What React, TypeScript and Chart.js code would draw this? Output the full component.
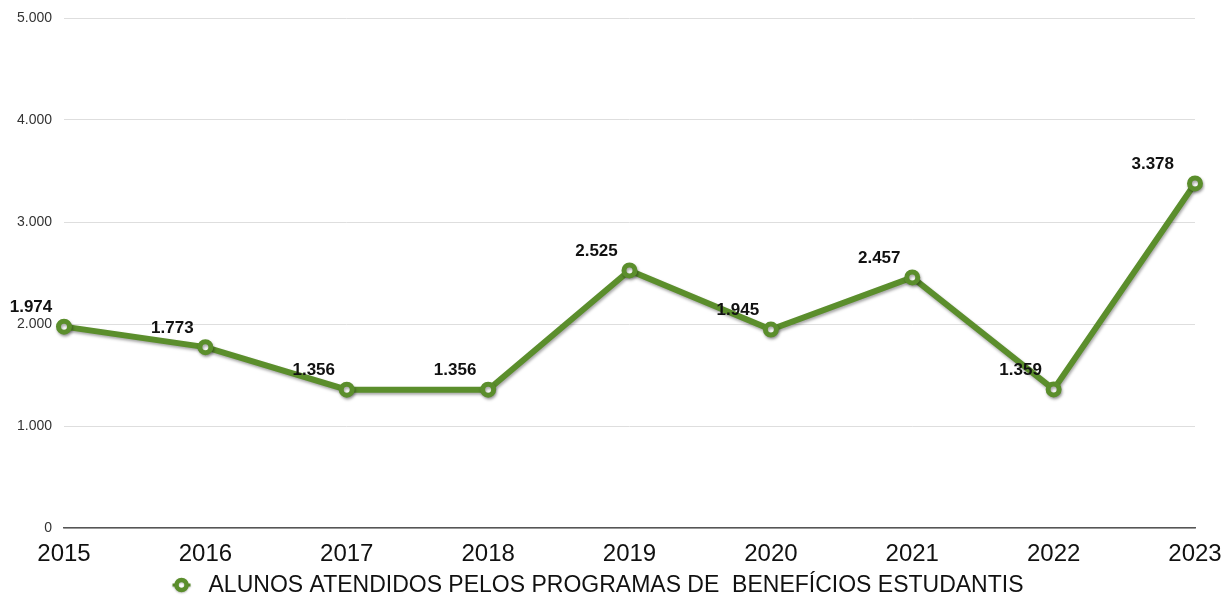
import React, { useEffect, useRef } from "react";
import { Chart, registerables } from "chart.js";

Chart.register(...registerables);

const years = ["2015", "2016", "2017", "2018", "2019", "2020", "2021", "2022", "2023"];
const alunos = [1974, 1773, 1356, 1356, 2525, 1945, 2457, 1359, 3378];
const seriesLabel = "ALUNOS ATENDIDOS PELOS PROGRAMAS DE  BENEFÍCIOS ESTUDANTIS";
const yTicks = [0, 1000, 2000, 3000, 4000, 5000];

const GREEN = "#5b8e2c";
const FONT = "'Liberation Sans', Arial, Helvetica, sans-serif";

const fmt = (v: number) => v.toLocaleString("de-DE");

const shadowPlugin = {
  id: "lineShadow",
  beforeDatasetDraw(chart: any) {
    const ctx = chart.ctx;
    ctx.save();
    ctx.shadowColor = "rgba(0,0,0,0.35)";
    ctx.shadowBlur = 3;
    ctx.shadowOffsetX = 1;
    ctx.shadowOffsetY = 2;
  },
  afterDatasetDraw(chart: any) {
    chart.ctx.restore();
  },
};

const labelPlugin = {
  id: "valueLabels",
  afterDatasetsDraw(chart: any) {
    const ctx = chart.ctx;
    const meta = chart.getDatasetMeta(0);
    const data = chart.data.datasets[0].data as number[];
    ctx.save();
    ctx.font = `bold 17px ${FONT}`;
    ctx.fillStyle = "#111";
    ctx.textAlign = "center";
    ctx.textBaseline = "middle";
    meta.data.forEach((pt: any, i: number) => {
      const text = fmt(data[i]);
      const w = ctx.measureText(text).width;
      let x = pt.x - 33;
      const maxX = chart.width - 50 - w / 2;
      if (x > maxX) x = maxX;
      ctx.fillText(text, x, pt.y - 19);
    });
    ctx.restore();
  },
};

const legendPlugin = {
  id: "bottomLegend",
  afterDraw(chart: any) {
    const ctx = chart.ctx;
    const ds = chart.data.datasets[0];
    ctx.save();
    ctx.font = `23px ${FONT}`;
    const tw = ctx.measureText(ds.label).width;
    const gap = 27;
    const total = gap + tw;
    const cx = (chart.chartArea.left + chart.chartArea.right) / 2 - 27;
    const mx = cx - total / 2;
    const cy = chart.height - 12;
    ctx.shadowColor = "rgba(0,0,0,0.25)";
    ctx.shadowBlur = 2;
    ctx.shadowOffsetY = 1;
    ctx.beginPath();
    ctx.moveTo(mx - 9, cy);
    ctx.lineTo(mx + 9, cy);
    ctx.lineWidth = 3;
    ctx.strokeStyle = ds.borderColor;
    ctx.stroke();
    ctx.beginPath();
    ctx.arc(mx, cy, 5, 0, Math.PI * 2);
    ctx.fillStyle = "#fff";
    ctx.fill();
    ctx.lineWidth = 4.5;
    ctx.stroke();
    ctx.shadowColor = "rgba(0,0,0,0)";
    ctx.fillStyle = "#111";
    ctx.textAlign = "left";
    ctx.textBaseline = "middle";
    ctx.fillText(ds.label, mx + gap, cy + 1);
    ctx.restore();
  },
};

export default function App() {
  const ref = useRef<HTMLCanvasElement | null>(null);

  useEffect(() => {
    if (!ref.current) return;
    const chart = new Chart(ref.current, {
      type: "line",
      data: {
        labels: years,
        datasets: [
          {
            label: seriesLabel,
            data: alunos,
            borderColor: GREEN,
            borderWidth: 6,
            backgroundColor: "#ffffff",
            pointBackgroundColor: "#ffffff",
            pointBorderColor: GREEN,
            pointBorderWidth: 5,
            pointRadius: 5.5,
            pointHoverRadius: 5.5,
            tension: 0,
          },
        ],
      },
      options: {
        animation: false,
        responsive: false,
        maintainAspectRatio: false,
        layout: { padding: { top: 18, right: 29, left: 0, bottom: 0 } },
        plugins: {
          tooltip: { enabled: false },
          legend: { display: false },
        },
        scales: {
          x: {
            offset: false,
            grid: { display: false, drawTicks: false },
            border: { display: true, color: "#555", width: 1.5 },
            ticks: {
              color: "#111",
              font: { family: FONT, size: 24 },
              padding: 12,
              maxRotation: 0,
            },
            afterFit: (s: any) => {
              s.height = 69;
              s.paddingLeft = 0;
              s.paddingRight = 0;
            },
          },
          y: {
            min: 0,
            max: 5000,
            afterBuildTicks: (s: any) => {
              s.ticks = yTicks.map((v) => ({ value: v }));
            },
            grid: { color: "#dedede", lineWidth: 1, drawTicks: false },
            border: { display: false },
            ticks: {
              color: "#333",
              font: { family: FONT, size: 14 },
              padding: 12,
              callback: (v: any) => fmt(Number(v)),
            },
            afterFit: (s: any) => {
              s.width = 64;
              s.paddingTop = 0;
              s.paddingBottom = 0;
            },
          },
        },
      },
      plugins: [shadowPlugin, labelPlugin, legendPlugin],
    });
    return () => chart.destroy();
  }, []);

  return (
    <div style={{ position: "absolute", left: 0, top: 0, width: 1224, height: 597, background: "#fff" }}>
      <canvas ref={ref} width={1224} height={597} style={{ width: 1224, height: 597 }} />
    </div>
  );
}
